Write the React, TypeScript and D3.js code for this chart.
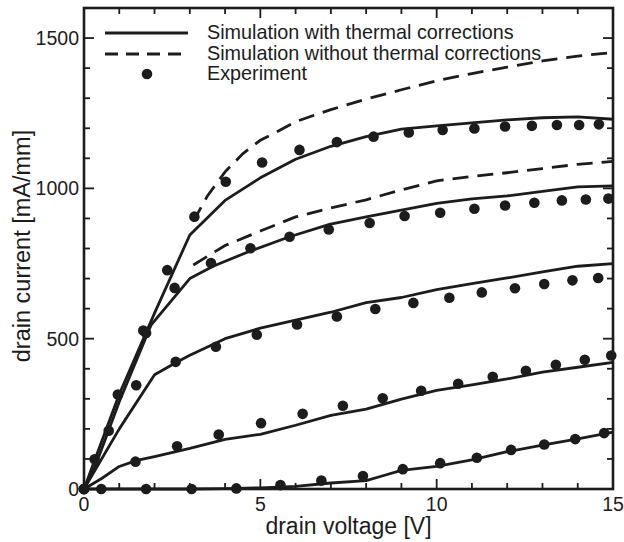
import React, {useRef, useEffect} from 'react';
import * as d3 from 'd3';

const config = {
    w: 624,
    h: 542,
    left: 84,
    right: 613,
    top: 8,
    bottom: 489,
    ink: '#1c1c1c',
    font: '"Liberation Sans", Arial, Helvetica, sans-serif'
};

// simulation with thermal corrections (solid), one array pair per gate bias
const solid1V = [0, 0.3, 1, 2, 3, 4, 5, 6, 7, 8, 9, 10, 11, 12, 13, 14, 15];
const solid1I = [0, 95, 315, 585, 845, 960, 1035, 1097, 1140, 1172, 1197, 1208, 1218, 1228, 1235, 1238, 1230];
const solid2V = [0, 0.3, 1, 1.9, 3, 3.66, 4.7, 5.83, 6.96, 8, 9, 10, 11, 12, 13, 14, 15];
const solid2I = [0, 70, 290, 545, 700, 741, 791, 839, 880, 905, 928, 950, 965, 975, 990, 1005, 1008];
const solid3V = [0, 1, 2, 2.6, 3, 4, 5, 6, 7, 8, 9, 10, 11, 12, 13, 14, 15];
const solid3I = [0, 200, 380, 420, 445, 500, 535, 562, 588, 620, 637, 663, 683, 702, 722, 741, 750];
const solid4V = [0, 0.5, 1, 1.5, 2, 3, 4, 5, 6, 7, 8, 9, 10, 11, 12, 13, 14, 15];
const solid4I = [0, 35, 75, 95, 108, 135, 165, 182, 212, 245, 266, 299, 328, 346, 366, 389, 405, 421];
const solid5V = [0, 1, 2, 3, 4, 5, 6, 7, 8, 8.5, 9, 10, 11, 12, 13, 14, 15];
const solid5I = [0, 0, 0, 0, 1, 4, 9, 20, 28, 45, 62, 75, 97, 124, 146, 167, 189];

// simulation without thermal corrections (dashed)
const dash1V = [3.1, 3.5, 4, 4.5, 5, 5.5, 6, 7, 8, 9, 10, 11, 12, 13, 14, 15];
const dash1I = [890, 975, 1055, 1115, 1160, 1190, 1222, 1262, 1297, 1328, 1358, 1382, 1403, 1424, 1440, 1452];
const dash2V = [3.1, 4, 5, 6, 7, 8, 9, 10, 11, 12, 13, 14, 15];
const dash2I = [745, 810, 858, 905, 935, 962, 995, 1025, 1040, 1052, 1066, 1080, 1090];

// experiment (dots)
const exp1V = [0, 0.3, 0.96, 1.68, 2.36, 3.13, 4.02, 5.05, 6.11, 7.17, 8.21, 9.21, 10.17, 11.07, 11.94, 12.7, 13.41, 14.04, 14.6];
const exp1I = [0, 99, 314, 527, 728, 906, 1022, 1086, 1128, 1154, 1172, 1186, 1194, 1199, 1206, 1208, 1211, 1211, 1213];
const exp2V = [0, 0.7, 1.76, 2.57, 3.6, 4.72, 5.83, 6.94, 8.1, 9.09, 10.1, 11.07, 11.94, 12.77, 13.55, 14.23, 14.87];
const exp2I = [0, 194, 519, 669, 752, 801, 839, 863, 885, 908, 919, 932, 943, 952, 960, 963, 966];
const exp3V = [0, 1.48, 2.6, 3.74, 4.9, 6.04, 7.17, 8.26, 9.34, 10.36, 11.28, 12.22, 13.05, 13.85, 14.58];
const exp3I = [0, 345, 423, 473, 513, 547, 574, 599, 619, 636, 654, 668, 682, 694, 702];
const exp4V = [0, 1.46, 2.64, 3.82, 5.02, 6.2, 7.34, 8.47, 9.56, 10.61, 11.59, 12.53, 13.38, 14.2, 14.95];
const exp4I = [0, 91, 142, 181, 219, 250, 277, 302, 327, 350, 373, 393, 413, 430, 444];
const exp5V = [0, 0.49, 1.76, 3.05, 4.32, 5.57, 6.73, 7.91, 9.04, 10.1, 11.14, 12.11, 13.05, 13.93, 14.75];
const exp5I = [0, 0, 0, 0, 2, 13, 28, 43, 66, 86, 104, 130, 148, 166, 186];

const xTicks = [0, 5, 10, 15];
const yTicks = [0, 500, 1000, 1500];
const legendLabels = [
    'Simulation with thermal corrections',
    'Simulation without thermal corrections',
    'Experiment'
];

const zip = (xs, ys) => xs.map((x, i) => ({v: x, i: ys[i]}));

export default function App() {
    const svgRef = useRef(null);

    useEffect(() => {
        const svg = d3.select(svgRef.current);
        svg.selectAll('*').remove();

        const x = d3.scaleLinear().domain([0, 15]).range([config.left, config.right]);
        const y = d3.scaleLinear().domain([0, 1600]).range([config.bottom, config.top]);

        const line = d3.line()
            .x(d => x(d.v))
            .y(d => y(d.i));

        const solids = [
            zip(solid1V, solid1I), zip(solid2V, solid2I), zip(solid3V, solid3I),
            zip(solid4V, solid4I), zip(solid5V, solid5I)
        ];
        const dashes = [zip(dash1V, dash1I), zip(dash2V, dash2I)];
        const dots = [
            ...zip(exp1V, exp1I), ...zip(exp2V, exp2I), ...zip(exp3V, exp3I),
            ...zip(exp4V, exp4I), ...zip(exp5V, exp5I)
        ];

        // minor + major ticks, pointing inward on all four sides
        const g = svg.append('g').attr('stroke', config.ink).attr('stroke-width', 1.8);
        d3.range(0, 16, 1).forEach(v => {
            const len = v % 5 === 0 ? 10 : 6;
            g.append('line').attr('x1', x(v)).attr('x2', x(v))
                .attr('y1', config.bottom).attr('y2', config.bottom - len);
            g.append('line').attr('x1', x(v)).attr('x2', x(v))
                .attr('y1', config.top).attr('y2', config.top + len);
        });
        d3.range(0, 1700, 100).forEach(v => {
            const len = v % 500 === 0 ? 10 : 6;
            g.append('line').attr('y1', y(v)).attr('y2', y(v))
                .attr('x1', config.left).attr('x2', config.left + len);
            g.append('line').attr('y1', y(v)).attr('y2', y(v))
                .attr('x1', config.right).attr('x2', config.right - len);
        });

        // curves
        svg.append('g').selectAll('path.solid')
            .data(solids)
            .join('path')
            .attr('class', 'solid')
            .attr('d', line)
            .attr('fill', 'none')
            .attr('stroke', config.ink)
            .attr('stroke-width', 2.8)
            .attr('stroke-linejoin', 'round');

        svg.append('g').selectAll('path.dash')
            .data(dashes)
            .join('path')
            .attr('class', 'dash')
            .attr('d', line)
            .attr('fill', 'none')
            .attr('stroke', config.ink)
            .attr('stroke-width', 2.8)
            .attr('stroke-dasharray', '16,9');

        svg.append('g').selectAll('circle')
            .data(dots)
            .join('circle')
            .attr('cx', d => x(d.v))
            .attr('cy', d => y(d.i))
            .attr('r', 5.3)
            .attr('fill', config.ink);

        // frame
        svg.append('rect')
            .attr('x', config.left).attr('y', config.top)
            .attr('width', config.right - config.left)
            .attr('height', config.bottom - config.top)
            .attr('fill', 'none')
            .attr('stroke', config.ink)
            .attr('stroke-width', 2.6);

        // tick labels
        const txt = svg.append('g')
            .attr('font-family', config.font)
            .attr('fill', config.ink);
        txt.selectAll('text.xt')
            .data(xTicks)
            .join('text')
            .attr('class', 'xt')
            .attr('x', d => x(d))
            .attr('y', 511)
            .attr('text-anchor', 'middle')
            .attr('font-size', 19.5)
            .text(d => d);
        txt.selectAll('text.yt')
            .data(yTicks)
            .join('text')
            .attr('class', 'yt')
            .attr('x', 79)
            .attr('y', d => y(d) + 7)
            .attr('text-anchor', 'end')
            .attr('font-size', 19.5)
            .text(d => d);

        // axis titles
        txt.append('text')
            .attr('x', (config.left + config.right) / 2)
            .attr('y', 534)
            .attr('text-anchor', 'middle')
            .attr('font-size', 23)
            .text('drain voltage [V]');
        txt.append('text')
            .attr('transform', 'translate(30,246) rotate(-90)')
            .attr('text-anchor', 'middle')
            .attr('font-size', 23.5)
            .text('drain current [mA/mm]');

        // legend
        const lg = svg.append('g');
        lg.append('line').attr('x1', 105).attr('x2', 188).attr('y1', 33).attr('y2', 33)
            .attr('stroke', config.ink).attr('stroke-width', 2.8);
        lg.append('line').attr('x1', 105).attr('x2', 188).attr('y1', 54).attr('y2', 54)
            .attr('stroke', config.ink).attr('stroke-width', 2.8)
            .attr('stroke-dasharray', '13,8');
        lg.append('circle').attr('cx', 147).attr('cy', 74).attr('r', 5.3).attr('fill', config.ink);
        lg.selectAll('text')
            .data(legendLabels)
            .join('text')
            .attr('x', 207)
            .attr('y', (d, i) => 39 + i * 20.5)
            .attr('font-family', config.font)
            .attr('font-size', 19.8)
            .attr('fill', config.ink)
            .text(d => d);
    }, []);

    return (
        <div style={{position: 'absolute', left: 0, top: 0}}>
            <svg ref={svgRef} width={config.w} height={config.h} style={{display: 'block', background: '#fff'}}></svg>
        </div>
    );
}
